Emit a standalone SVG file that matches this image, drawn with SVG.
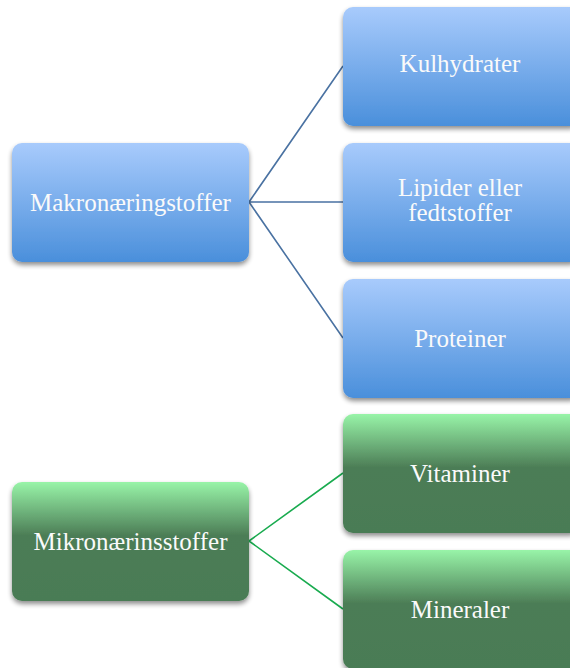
<svg xmlns="http://www.w3.org/2000/svg" width="570" height="668" viewBox="0 0 570 668">
<defs>
<linearGradient id="gb" x1="0" y1="0" x2="0" y2="1">
<stop offset="0" stop-color="#a8cbfc"/>
<stop offset="1" stop-color="#4a8fdb"/>
</linearGradient>
<linearGradient id="gg" x1="0" y1="0" x2="0" y2="1">
<stop offset="0" stop-color="#98f4a8"/>
<stop offset="0.45" stop-color="#4c7d56"/>
<stop offset="1" stop-color="#4a7b55"/>
</linearGradient>
<filter id="sh" x="-10%" y="-10%" width="125%" height="130%">
<feGaussianBlur in="SourceAlpha" stdDeviation="2.5"/>
<feOffset dx="0" dy="3" result="b"/>
<feComponentTransfer><feFuncA type="linear" slope="0.45"/></feComponentTransfer>
<feMerge><feMergeNode/><feMergeNode in="SourceGraphic"/></feMerge>
</filter>
</defs>
<style>
.b{fill:url(#gb);filter:url(#sh)}
.g{fill:url(#gg);filter:url(#sh)}
text{font-family:"Liberation Serif","DejaVu Serif",serif;font-size:25px;fill:#fafafa;text-anchor:middle}
.cb{stroke:#4a72a2;stroke-width:1.6;fill:none}
.cg{stroke:#19ab4f;stroke-width:1.6;fill:none}
</style>
<g id="connectors">
<path class="cb" d="M249,202 L343,66 M249,202 L343,202 M249,202 L343,338"/>
<path class="cg" d="M249,541 L343,473 M249,541 L343,609"/>
</g>
<g id="makro"><rect class="b" x="12" y="143" width="237" height="119" rx="10"/><text x="130.5" y="211">Makronæringstoffer</text></g>
<g id="kulhydrater"><rect class="b" x="343" y="7" width="237" height="119" rx="10"/><text x="460" y="72">Kulhydrater</text></g>
<g id="lipider"><rect class="b" x="343" y="143" width="237" height="119" rx="10"/><text x="460" y="196">Lipider eller</text><text x="460" y="221">fedtstoffer</text></g>
<g id="proteiner"><rect class="b" x="343" y="279" width="237" height="119" rx="10"/><text x="460" y="347">Proteiner</text></g>
<g id="mikro"><rect class="g" x="12" y="482" width="237" height="119" rx="10"/><text x="130.5" y="550">Mikronærinsstoffer</text></g>
<g id="vitaminer"><rect class="g" x="343" y="414" width="237" height="119" rx="10"/><text x="460" y="482">Vitaminer</text></g>
<g id="mineraler"><rect class="g" x="343" y="550" width="237" height="119" rx="10"/><text x="460" y="618">Mineraler</text></g>
</svg>
